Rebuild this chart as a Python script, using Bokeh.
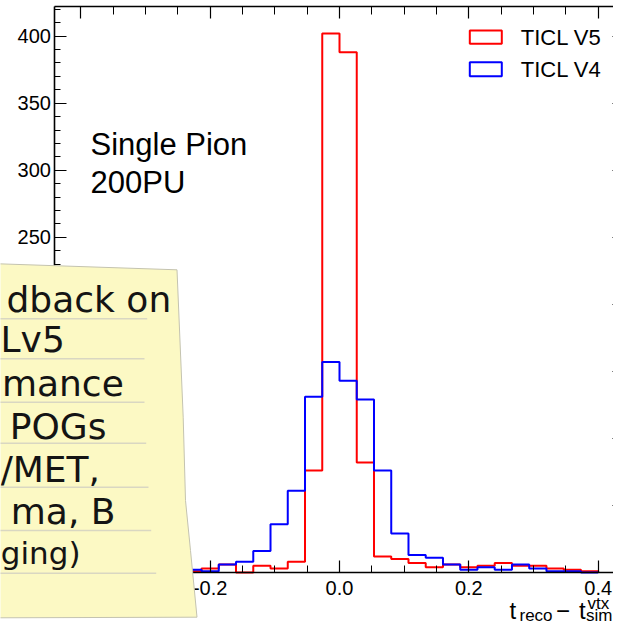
import numpy as np
from bokeh.plotting import figure
from bokeh.models import (LinearAxis, SingleIntervalTicker, NumeralTickFormatter, Label,
                          PolyAnnotation, Range1d)
from bokeh.embed import file_html
from bokeh.resources import INLINE

# ---------------- data ----------------
bin_lo, bin_hi, n_bins = -0.4, 0.4, 30
ticl_v5 = [1, 0, 1, 1, 2, 1, 1, 3, 6, 0, 5, 3, 8, 76, 402, 388, 82, 12, 10, 7,
           4, 6, 4, 5, 7, 5, 5, 3, 2, 1]
ticl_v4 = [0, 1, 0, 1, 1, 2, 2, 1, 6, 8, 16, 36, 61, 131, 157, 143, 129, 76, 29, 13,
           11, 6, 2, 4, 2, 6, 3, 1, 1, 0]
series_names = ["TICL V5", "TICL V4"]
series_colors = ["#ff0000", "#0000ff"]
annotation_lines = ["Single Pion", "200PU"]
note_fragments = ["dback on", "Lv5", "mance", "POGs", "/MET,", "ma, B", "ging)"]

# axis limits (matplotlib-like 5% margins)
x_lim = (-0.44, 0.44)
y_lim = (0, 422.1)

# ---------------- canvas geometry ----------------
W, H = 613, 627
X0_PX, PX_PER_X = 339.0, 646.75       # canvas x of value 0, px per unit
Y0_PX, PX_PER_Y = 572.0, 1.3409       # canvas y of value 0, px per count


def sx(X):
    return X


def sy(Y):
    return H - Y


def base_to_mid(base, size_px):
    # labels are placed by their vertical middle; convert from a baseline
    return base - 0.35 * size_px


p = figure(width=W, height=H, output_backend="svg", toolbar_location=None,
           x_range=Range1d(-X0_PX / PX_PER_X, (W - X0_PX) / PX_PER_X),
           y_range=Range1d((Y0_PX - H) / PX_PER_Y, Y0_PX / PX_PER_Y),
           x_axis_location=None, y_axis_location=None,
           min_border_left=0, min_border_right=0, min_border_top=0, min_border_bottom=0)
p.outline_line_color = None
p.xgrid.visible = False
p.ygrid.visible = False
p.background_fill_color = "white"
p.border_fill_color = "white"


def make_axis(side, loc, bounds, interval, nminor, tin, tmin, labels):
    ax = LinearAxis(fixed_location=loc, bounds=bounds,
                    ticker=SingleIntervalTicker(interval=interval, num_minor_ticks=nminor))
    ax.axis_line_width = 1.6
    ax.axis_line_color = "black"
    ax.major_tick_in = tin
    ax.major_tick_out = 0
    ax.minor_tick_in = tmin
    ax.minor_tick_out = 0
    ax.major_tick_line_width = 1.2
    ax.minor_tick_line_width = 1.0
    ax.major_tick_line_color = "black"
    ax.minor_tick_line_color = "black"
    if labels:
        ax.major_label_text_font = "Liberation Sans"
        ax.major_label_text_font_size = "20px"
        ax.major_label_text_color = "black"
    else:
        ax.major_label_text_color = None
        ax.major_label_text_alpha = 0
    p.add_layout(ax, side)
    return ax


xb = make_axis("below", y_lim[0], x_lim, 0.2, 4, 12, 7, True)
xb.formatter = NumeralTickFormatter(format="0.0")
xb.major_label_standoff = 8
yl = make_axis("left", x_lim[0], y_lim, 50, 5, 12, 6, True)
yl.major_label_standoff = 4
make_axis("above", y_lim[1], x_lim, 0.2, 4, 12, 8, False)
make_axis("right", x_lim[1], y_lim, 50, 5, 12, 7, False)

# ---------------- histograms (step outlines) ----------------
edges = np.linspace(bin_lo, bin_hi, n_bins + 1)
for counts, color in zip([ticl_v5, ticl_v4], series_colors):
    xs = [edges[0]] + list(edges)
    ys = [0] + list(counts) + [0]
    p.step(xs, ys, mode="after", line_color=color, line_width=2)


def add_text(txt, X, base, size, font="Liberation Sans", align="left", color="black"):
    p.add_layout(Label(x=sx(X), y=sy(base_to_mid(base, size)),
                       x_units="screen", y_units="screen", text=txt,
                       text_font=font, text_font_size=f"{size}px",
                       text_color=color, text_align=align, text_baseline="middle"))


# ---------------- legend (outlined boxes + labels) ----------------
leg_box_y = [(30, 43.3), (61.7, 75.7)]
leg_base = [45, 76.7]
for name, color, (t, b), base in zip(series_names, series_colors, leg_box_y, leg_base):
    p.add_layout(PolyAnnotation(xs=[sx(469.3), sx(501.3), sx(501.3), sx(469.3)],
                                ys=[sy(t), sy(t), sy(b), sy(b)],
                                xs_units="screen", ys_units="screen",
                                fill_alpha=0, line_color=color, line_alpha=1.0,
                                line_width=2))
    add_text(name, 520.3, base, 22)

# ---------------- in-plot text ----------------
for txt, base in zip(annotation_lines, [155, 193.3]):
    add_text(txt, 90, base, 31)

# x axis label: t_reco - t_sim^vtx
xlab_parts = [("t", 509, 618, 24), ("reco", 519, 621.3, 17),
              ("\u2212", 555.5, 618, 24), ("t", 578.5, 618, 24),
              ("sim", 585.5, 621.3, 17), ("vtx", 587, 609, 17)]
for txt, X, base, fs in xlab_parts:
    add_text(txt, X, base, fs)

# ---------------- sticky note overlay ----------------
note_x = [-2, 176.5, 182.7, 185, 190, 196.5, -2]
note_y = [263.3, 269.3, 416.7, 500, 550, 616.7, 617.3]
p.add_layout(PolyAnnotation(xs=[sx(v) for v in note_x], ys=[sy(v) for v in note_y],
                            xs_units="screen", ys_units="screen",
                            fill_color="#fcf9c4", fill_alpha=1.0,
                            line_color="#c4c3b0", line_alpha=1.0, line_width=1.0))

rule_y = [318.3, 358.3, 401.7, 442.7, 486.7, 530, 572.7]
rule_end = [146.7, 144, 144, 145.7, 148, 150.7, 155.7]
for ry, re in zip(rule_y, rule_end):
    p.add_layout(PolyAnnotation(xs=[sx(-1), sx(re), sx(re), sx(-1)],
                                ys=[sy(ry - 0.8), sy(ry - 0.8), sy(ry + 0.8), sy(ry + 0.8)],
                                xs_units="screen", ys_units="screen",
                                fill_color="#d9d7c2", fill_alpha=1.0, line_color=None))

note_end = [170.7, 64.3, 123.3, 106, 99.5, 115, 80]
note_base = [311.7, 351.7, 395.7, 438.3, 481.7, 523.3, 563]
note_size = [36, 36, 36, 36, 36, 36, 31]
for txt, X, base, fs in zip(note_fragments, note_end, note_base, note_size):
    add_text(txt, X, base, fs, font="DejaVu Sans", align="right", color="#141414")

open("out.html", "w").write(file_html(p, INLINE))
